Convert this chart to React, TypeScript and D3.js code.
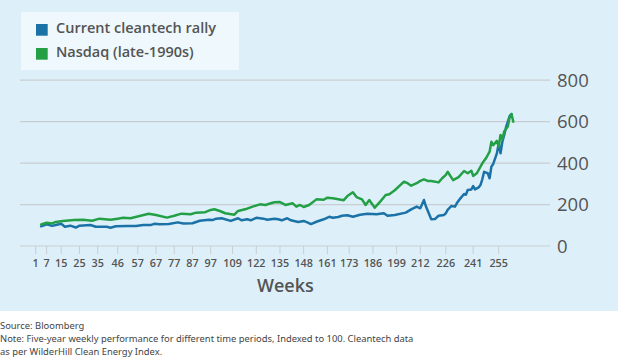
import React from "react";
import * as d3 from "d3";

const W = 618;
const H = 357;

const seriesNames = ["Current cleantech rally", "Nasdaq (late-1990s)"];
const seriesColors = ["#1b72a6", "#23a046"];

const xTickWeeks = [1, 7, 15, 25, 35, 46, 57, 67, 77, 87, 97, 109, 122, 135, 148, 161, 173, 186, 199, 212, 226, 241, 255];
const yTicks = [0, 200, 400, 600, 800];

// [week, index value]
const cleantech: [number, number][] = [
  [4, 95], [7, 105], [10, 97], [12, 101], [15, 107], [17, 93], [20, 98], [23, 89], [25, 98],
  [31, 101], [34, 93], [40, 93], [42, 88], [45, 95], [51, 96], [56, 96], [60, 101], [64, 101],
  [66, 107], [69, 105], [74, 106], [79, 114], [82, 109], [87, 110], [91, 122], [96, 127],
  [98, 125], [100, 132], [103, 134], [108, 121], [112, 134], [114, 124], [117, 129], [119, 124],
  [122, 136], [126, 132], [128, 127], [132, 132], [134, 129], [136, 124], [139, 134], [141, 124],
  [145, 116], [148, 121], [150, 114], [152, 106], [155, 117], [159, 129], [162, 141], [164, 136],
  [167, 140], [169, 146], [172, 148], [175, 141], [179, 151], [183, 156], [188, 153], [192, 158],
  [194, 146], [198, 150], [204, 161], [207, 177], [210, 190], [212, 182], [214, 222], [215, 193],
  [218, 129], [220, 130], [222, 146], [225, 150], [226, 158], [227, 174], [229, 193], [231, 190],
  [232, 206], [234, 230], [236, 251], [237, 247], [238, 270], [240, 273], [241, 289], [242, 273],
  [244, 283], [245, 294], [246, 322], [247, 358], [249, 351], [250, 327], [251, 383], [252, 396],
  [254, 447], [255, 495], [256, 447], [257, 503], [258, 535], [259, 572], [261, 627], [262, 637],
];

const nasdaq: [number, number][] = [
  [4, 104], [7, 112], [10, 109], [12, 116], [16, 121], [22, 125], [27, 127], [32, 122], [36, 132],
  [42, 127], [46, 132], [49, 136], [53, 134], [58, 145], [63, 156], [67, 150], [73, 137], [77, 146],
  [81, 156], [86, 153], [89, 161], [94, 163], [97, 174], [99, 177], [102, 169], [105, 158],
  [110, 151], [112, 169], [117, 180], [120, 190], [124, 201], [127, 198], [130, 206], [132, 211],
  [135, 212], [138, 198], [142, 206], [144, 190], [146, 198], [148, 188], [151, 198], [155, 225],
  [159, 223], [161, 233], [164, 230], [170, 221], [172, 241], [175, 259], [177, 236], [180, 225],
  [182, 198], [184, 222], [187, 185], [190, 214], [193, 246], [195, 250], [198, 269], [201, 294],
  [203, 310], [205, 303], [207, 291], [210, 303], [212, 314], [214, 322], [216, 314], [218, 314],
  [222, 307], [224, 327], [226, 343], [227, 358], [229, 331], [230, 318], [233, 332], [236, 362],
  [238, 351], [240, 363], [241, 338], [243, 351], [246, 399], [248, 423], [249, 439], [250, 455],
  [251, 503], [252, 487], [254, 507], [255, 479], [256, 536], [257, 515], [258, 552], [260, 576],
  [261, 621], [262, 637], [263, 600],
];

const footerLines = [
  "Source: Bloomberg",
  "Note: Five-year weekly performance for different time periods, Indexed to 100. Cleantech data",
  "as per WilderHill Clean Energy Index.",
];

const FONT = "'Open Sans', 'DejaVu Sans', sans-serif";
const TEXT = "#545454";

export default function App() {
  const x = d3.scaleLinear().domain([1, 255]).range([35.7, 498.7]);
  const y = d3.scaleLinear().domain([0, 800]).range([246, 80.2]);
  const line = d3
    .line<[number, number]>()
    .x((d) => x(d[0]))
    .y((d) => y(d[1]));

  const series = [cleantech, nasdaq];

  return (
    <svg
      width={W}
      height={H}
      style={{ position: "absolute", left: 0, top: 0, display: "block" }}
      fontFamily={FONT}
    >
      <rect x={0} y={0} width={W} height={H} fill="#ffffff" />
      <rect x={0} y={0} width={W} height={311} fill="#ddf0fa" />

      {/* grid */}
      {yTicks.map((t) => (
        <g key={t}>
          <line x1={20} x2={550} y1={y(t)} y2={y(t)} stroke="#c9ccd0" strokeWidth={1.2} />
          <text x={557} y={y(t)} dy="0.36em" fontSize={18.5} fill={TEXT} fontWeight={500}>
            {t}
          </text>
        </g>
      ))}

      {/* x ticks */}
      {xTickWeeks.map((w) => (
        <g key={w}>
          <line x1={x(w)} x2={x(w)} y1={y(0)} y2={y(0) + 8} stroke="#c9ccd0" strokeWidth={1} />
          <text x={x(w)} y={266.7} textAnchor="middle" fontSize={10.8} fontWeight={600} fill={TEXT}>
            {w}
          </text>
        </g>
      ))}

      <text x={285.3} y={291.7} textAnchor="middle" fontSize={18} fontWeight={600} fill={TEXT}>
        Weeks
      </text>

      {/* lines */}
      {series.map((s, i) => (
        <path
          key={i}
          d={line(s) || ""}
          fill="none"
          stroke={seriesColors[i]}
          strokeWidth={2.5}
          strokeLinejoin="round"
          strokeLinecap="round"
        />
      ))}

      {/* legend */}
      <rect x={21} y={12} width={218} height={58} fill="#eef8fd" />
      {seriesNames.map((n, i) => (
        <g key={n}>
          <rect x={36} y={24 + i * 24} width={11.7} height={11.7} fill={seriesColors[i]} />
          <text x={56} y={33.3 + i * 24} fontSize={14.5} fontWeight={600} fill={TEXT}>
            {n}
          </text>
        </g>
      ))}

      {/* footer */}
      {footerLines.map((l, i) => (
        <text key={i} x={0} y={328.5 + i * 13.2} fontSize={9.4} fill="#444" fontFamily="'Noto Sans', sans-serif">
          {l}
        </text>
      ))}
    </svg>
  );
}
